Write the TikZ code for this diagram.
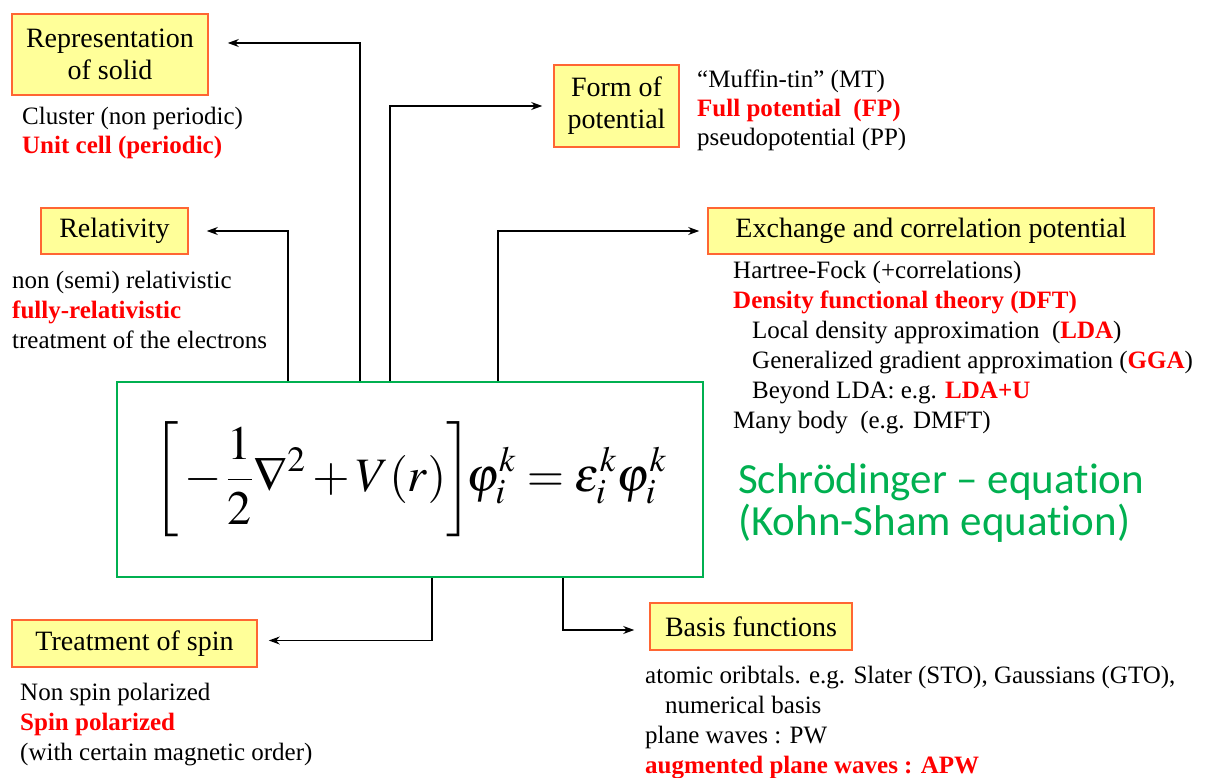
\documentclass[tikz,border=0pt]{standalone}
\usepackage{mathptmx}
\usepackage{fontspec}
\setmainfont{Liberation Serif}
\newfontfamily\greenfont[Ligatures=NoCommon]{Carlito}
\usetikzlibrary{arrows.meta}
\definecolor{boxfill}{HTML}{FFFF99}
\definecolor{boxline}{HTML}{FF6633}
\definecolor{eqgreen}{HTML}{00B050}
\definecolor{hired}{HTML}{FF0000}
\newcommand{\hl}[1]{\textcolor{hired}{\bfseries #1}}
\tikzset{
  topic/.style={draw=boxline, fill=boxfill, line width=1.6pt, align=center, inner sep=0pt,
    font=\fontsize{28}{32}\selectfont},
  notes/.style={anchor=north west, align=left, inner sep=0pt, font=\fontsize{25}{30}\selectfont},
  conn/.style={->, line width=1.1pt},
}

\begin{document}
\begin{tikzpicture}[x=1pt, y=-1pt, >={Stealth[length=11pt,width=8pt]}]
  \useasboundingbox (0,0) rectangle (1205,778);
  % Kohn-Sham equation in the middle
  \node[draw=eqgreen, line width=2.4pt, minimum width=586pt, minimum height=195pt, inner sep=0pt] (eq) at (410,479.5)
    {\fontsize{48}{54}\selectfont $\displaystyle\biggl[\,-\,\frac{1}{2}\nabla^2+V(r)\biggr]\!\varphi_i^k=\varepsilon_i^k\varphi_i^k$};
  \node[anchor=north west, align=left, inner sep=0pt, text=eqgreen, font=\greenfont\fontsize{43}{42}\selectfont] (eqname) at (738,463)
    {Schrödinger – equation\\(Kohn-Sham equation)};
  % topics round the equation
  \node[topic, minimum width=196pt, minimum height=81pt] (rep) at (110,54.5) {Representation\\of solid};
  \node[topic, minimum width=125pt, minimum height=82pt] (form) at (616.5,106) {Form of\\potential};
  \node[topic, minimum width=147pt, minimum height=46pt] (rel) at (114.5,231) {Relativity};
  \node[topic, minimum width=446pt, minimum height=46pt] (xc) at (931,231) {Exchange and correlation potential};
  \node[topic, minimum width=245pt, minimum height=47pt] (spin) at (134.5,643.5) {Treatment of spin};
  \node[topic, minimum width=202pt, minimum height=47pt] (basis) at (751,626.5) {Basis functions};
  % lists under the topics
  \node[notes, font=\fontsize{25}{29}\selectfont] (repnotes) at (22,107) {Cluster (non periodic)\\\hl{Unit cell (periodic)}};
  \node[notes, font=\fontsize{25}{29}\selectfont] (formnotes) at (697,70) {“Muffin-tin” (MT)\\\hl{Full potential~ (FP)}\\pseudopotential (PP)};
  \node[notes] (relnotes) at (12,271) {non (semi) relativistic\\\hl{fully-relativistic}\\treatment of the electrons};
  \node[notes] (xcnotes) at (733,261) {Hartree-Fock (+correlations)\\\hl{Density functional theory (DFT)}\\
    \hspace*{19pt}Local density approximation~ (\hl{LDA})\\
    \hspace*{19pt}Generalized gradient approximation (\hl{GGA})\\
    \hspace*{19pt}Beyond LDA: e.g. \hl{LDA+U}\\Many body~ (e.g. DMFT)};
  \node[notes] (spinnotes) at (20,683) {Non spin polarized\\\hl{Spin polarized}\\(with certain magnetic order)};
  \node[notes] (basisnotes) at (645,666) {atomic oribtals. e.g. Slater (STO), Gaussians (GTO),\\
    \hspace*{20pt}numerical basis\\plane waves : PW\\\hl{augmented plane waves : APW}};
  % connectors
  \coordinate (repx) at (360,0);
  \coordinate (formx) at (390,0);
  \coordinate (relx) at (288,0);
  \coordinate (xcx) at (498,0);
  \coordinate (spinx) at (432,0);
  \coordinate (basisx) at (563,0);
  \draw[conn] (eq.north -| repx) |- ([xshift=19pt,yshift=11.5pt]rep.east);
  \draw[conn] (eq.north -| formx) |- ([xshift=-11pt]form.west);
  \draw[conn] (eq.north -| relx) |- ([xshift=18pt]rel.east);
  \draw[conn] (eq.north -| xcx) |- ([xshift=-8pt]xc.west);
  \draw[conn] (eq.south -| spinx) |- ([xshift=11pt,yshift=3pt]spin.east);
  \draw[conn] (eq.south -| basisx) |- ([xshift=-15pt,yshift=-3.5pt]basis.west);
\end{tikzpicture}
\end{document}
